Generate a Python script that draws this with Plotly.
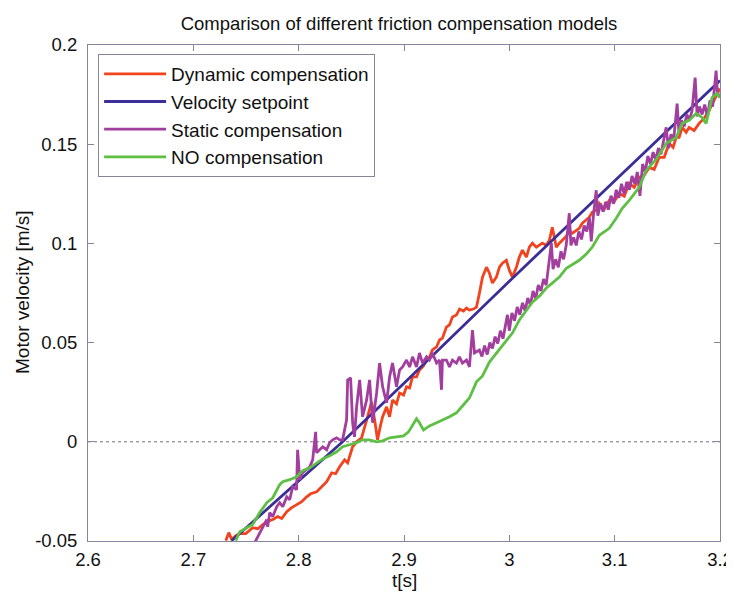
import plotly.graph_objects as go

# ---------------- data ----------------
x_ticks = [2.6, 2.7, 2.8, 2.9, 3.0, 3.1, 3.2]
x_tick_labels = ["2.6", "2.7", "2.8", "2.9", "3", "3.1", "3.2"]
y_ticks = [-0.05, 0.0, 0.05, 0.1, 0.15, 0.2]
y_tick_labels = ["-0.05", "0", "0.05", "0.1", "0.15", "0.2"]

dyn_t = [2.7308, 2.7337, 2.7365, 2.7403, 2.7441, 2.7498, 2.7564, 2.7612, 2.7659, 2.7706,
         2.7754, 2.7801, 2.7839, 2.7887, 2.7934, 2.7981, 2.8029, 2.8076, 2.8114, 2.8171,
         2.8218, 2.8266, 2.8313, 2.8351, 2.8389, 2.8436, 2.8465, 2.8512, 2.8550, 2.8597,
         2.8654, 2.8692, 2.8721, 2.8749, 2.8778, 2.8797, 2.8835, 2.8863, 2.8891, 2.8929,
         2.8958, 2.8996, 2.9024, 2.9053, 2.9081, 2.9119, 2.9147, 2.9185, 2.9214, 2.9242,
         2.9270, 2.9309, 2.9337, 2.9365, 2.9403, 2.9432, 2.9460, 2.9498, 2.9527, 2.9565,
         2.9593, 2.9621, 2.9659, 2.9688, 2.9716, 2.9745, 2.9783, 2.9811, 2.9839, 2.9877,
         2.9906, 2.9934, 2.9972, 3.0000, 3.0029, 3.0067, 3.0095, 3.0124, 3.0162, 3.0190,
         3.0219, 3.0257, 3.0285, 3.0313, 3.0351, 3.0380, 3.0408, 3.0446, 3.0475, 3.0503,
         3.0541, 3.0569, 3.0598, 3.0636, 3.0664, 3.0693, 3.0730, 3.0759, 3.0787, 3.0825,
         3.0854, 3.0901, 3.0949, 3.0996, 3.1043, 3.1091, 3.1138, 3.1186, 3.1233, 3.1280,
         3.1328, 3.1375, 3.1423, 3.1470, 3.1517, 3.1555, 3.1584, 3.1612, 3.1641, 3.1679,
         3.1707, 3.1754, 3.1802, 3.1849, 3.1896, 3.1944, 3.1991, 3.2000]
dyn_v = [-0.0498, -0.0458, -0.0493, -0.0473, -0.0463, -0.0463, -0.0433, -0.0438, -0.0417, -0.0402,
         -0.0392, -0.0377, -0.0387, -0.0352, -0.0332, -0.0317, -0.0302, -0.0277, -0.0262, -0.0252,
         -0.0226, -0.0201, -0.0156, -0.0161, -0.0126, -0.0091, -0.0106, -0.0025, 0.0000, 0.0020,
         0.0126, 0.0201, 0.0111, 0.0010, 0.0086, 0.0126, 0.0176, 0.0126, 0.0211, 0.0191,
         0.0246, 0.0236, 0.0277, 0.0272, 0.0327, 0.0327, 0.0362, 0.0382, 0.0412, 0.0428,
         0.0463, 0.0478, 0.0513, 0.0523, 0.0578, 0.0589, 0.0629, 0.0639, 0.0669, 0.0659,
         0.0674, 0.0664, 0.0669, 0.0679, 0.0749, 0.0830, 0.0880, 0.0850, 0.0800, 0.0830,
         0.0880, 0.0900, 0.0915, 0.0865, 0.0830, 0.0880, 0.0931, 0.0966, 0.0931, 0.0981,
         0.1001, 0.0981, 0.0991, 0.1001, 0.0991, 0.1016, 0.1081, 0.0981, 0.1001, 0.1016,
         0.1036, 0.1066, 0.1051, 0.1066, 0.1076, 0.1102, 0.1117, 0.1132, 0.1157, 0.1167,
         0.1202, 0.1172, 0.1217, 0.1212, 0.1252, 0.1238, 0.1303, 0.1283, 0.1333, 0.1343,
         0.1383, 0.1373, 0.1434, 0.1434, 0.1504, 0.1484, 0.1534, 0.1534, 0.1585, 0.1560,
         0.1585, 0.1569, 0.1605, 0.1630, 0.1670, 0.1720, 0.1771, 0.1781]

set_t = [2.7365, 2.7700, 2.8000, 2.8417, 2.9000, 2.9716, 3.0000, 3.0854, 3.1500, 3.2000]
set_v = [-0.0498, -0.0339, -0.0196, 0.0000, 0.0295, 0.0664, 0.0809, 0.1242, 0.1568, 0.1821]

stat_t = [2.7583, 2.7630, 2.7660, 2.7697, 2.7706, 2.7725, 2.7754, 2.7792, 2.7820, 2.7849,
          2.7887, 2.7915, 2.7943, 2.7980, 2.7990, 2.8010, 2.8038, 2.8076, 2.8105, 2.8133,
          2.8161, 2.8170, 2.8200, 2.8228, 2.8266, 2.8294, 2.8323, 2.8360, 2.8390, 2.8417,
          2.8455, 2.8465, 2.8493, 2.8512, 2.8530, 2.8550, 2.8579, 2.8607, 2.8645, 2.8673,
          2.8702, 2.8740, 2.8768, 2.8797, 2.8835, 2.8863, 2.8891, 2.8929, 2.8958, 2.8986,
          2.9024, 2.9053, 2.9081, 2.9119, 2.9147, 2.9176, 2.9214, 2.9242, 2.9270, 2.9309,
          2.9337, 2.9356, 2.9365, 2.9403, 2.9432, 2.9460, 2.9498, 2.9526, 2.9555, 2.9593,
          2.9621, 2.9650, 2.9669,
          2.9716, 2.9740, 2.9765, 2.9790, 2.9815, 2.9840, 2.9865, 2.9890, 2.9915, 2.9940,
          2.9965, 2.9982, 3.0000, 3.0025, 3.0050, 3.0075, 3.0100, 3.0125, 3.0150, 3.0175,
          3.0200, 3.0225, 3.0250, 3.0275, 3.0300, 3.0325, 3.0350, 3.0375, 3.0399, 3.0415,
          3.0440, 3.0465, 3.0490, 3.0515, 3.0540, 3.0569, 3.0585, 3.0610, 3.0635, 3.0660,
          3.0685, 3.0710, 3.0735, 3.0760, 3.0778, 3.0800, 3.0825, 3.0840, 3.0865, 3.0890,
          3.0915, 3.0940, 3.0965, 3.0990, 3.1015, 3.1040, 3.1065, 3.1090, 3.1115, 3.1140,
          3.1165, 3.1190, 3.1215, 3.1240, 3.1265, 3.1290, 3.1315, 3.1340, 3.1365, 3.1390,
          3.1415, 3.1440, 3.1465, 3.1489, 3.1510, 3.1535, 3.1560, 3.1593, 3.1610, 3.1635,
          3.1660, 3.1685, 3.1710, 3.1735, 3.1764, 3.1783, 3.1805, 3.1830, 3.1855, 3.1880,
          3.1905, 3.1930, 3.1963, 3.1975, 3.2000]
stat_v = [-0.0508, -0.0458, -0.0428, -0.0392, -0.0428, -0.0357, -0.0377, -0.0327, -0.0307, -0.0327,
          -0.0277, -0.0292, -0.0226, -0.0241, -0.0040, -0.0191, -0.0156, -0.0141, -0.0126, -0.0091,
          0.0050, -0.0055, -0.0040, -0.0025, -0.0040, -0.0005, 0.0010, 0.0020, 0.0010, 0.0010,
          0.0111, 0.0312, 0.0322, 0.0096, 0.0025, 0.0176, 0.0312, 0.0126, 0.0211, 0.0312,
          0.0096, 0.0246, 0.0397, 0.0277, 0.0196, 0.0327, 0.0397, 0.0277, 0.0362, 0.0377,
          0.0412, 0.0377, 0.0428, 0.0377, 0.0448, 0.0397, 0.0428, 0.0412, 0.0448, 0.0397,
          0.0412, 0.0262, 0.0412, 0.0412, 0.0377, 0.0412, 0.0397, 0.0428, 0.0397, 0.0412,
          0.0377, 0.0563, 0.0448,
          0.0463, 0.0430, 0.0485, 0.0440, 0.0500, 0.0470, 0.0530, 0.0495, 0.0560, 0.0520,
          0.0600, 0.0640, 0.0560, 0.0650, 0.0610, 0.0680, 0.0640, 0.0700, 0.0660, 0.0725,
          0.0690, 0.0760, 0.0720, 0.0790, 0.0760, 0.0820, 0.0790, 0.0900, 0.1001, 0.0870,
          0.0920, 0.0880, 0.0960, 0.0920, 0.0990, 0.1152, 0.0990, 0.1030, 0.0990, 0.1060,
          0.1020, 0.1090, 0.1060, 0.1130, 0.1010, 0.1150, 0.1268, 0.1140, 0.1200, 0.1160,
          0.1210, 0.1170, 0.1240, 0.1200, 0.1270, 0.1230, 0.1300, 0.1250, 0.1310, 0.1270,
          0.1340, 0.1300, 0.1360, 0.1240, 0.1400, 0.1360, 0.1440, 0.1400, 0.1460, 0.1420,
          0.1480, 0.1450, 0.1520, 0.1585, 0.1480, 0.1550, 0.1520, 0.1705, 0.1560, 0.1620,
          0.1590, 0.1650, 0.1620, 0.1670, 0.1836, 0.1640, 0.1690, 0.1650, 0.1700, 0.1640,
          0.1720, 0.1690, 0.1871, 0.1760, 0.1735]

noc_t = [2.7403, 2.7441, 2.7507, 2.7564, 2.7630, 2.7697, 2.7754, 2.7792, 2.7820, 2.7849,
         2.7915, 2.7981, 2.8038, 2.8105, 2.8171, 2.8228, 2.8294, 2.8361, 2.8417, 2.8484,
         2.8550, 2.8607, 2.8673, 2.8740, 2.8797, 2.8863, 2.8929, 2.8996, 2.9043, 2.9081,
         2.9119, 2.9147, 2.9185, 2.9242, 2.9309, 2.9365, 2.9432, 2.9498, 2.9555, 2.9621,
         2.9688, 2.9745, 2.9811, 2.9877, 2.9934, 3.0029, 3.0095, 3.0162, 3.0219, 3.0285,
         3.0351, 3.0408, 3.0475, 3.0541, 3.0598, 3.0664, 3.0730, 3.0787, 3.0854, 3.0949,
         3.1015, 3.1072, 3.1138, 3.1233, 3.1299, 3.1394, 3.1489, 3.1584, 3.1641, 3.1707,
         3.1773, 3.1830, 3.1868, 3.1925, 3.1972, 3.2000]
noc_v = [-0.0498, -0.0453, -0.0433, -0.0417, -0.0357, -0.0307, -0.0282, -0.0241, -0.0216, -0.0201,
         -0.0191, -0.0176, -0.0146, -0.0131, -0.0106, -0.0086, -0.0070, -0.0050, -0.0025, -0.0015,
         -0.0005, 0.0010, 0.0010, 0.0000, 0.0005, 0.0020, 0.0025, 0.0030, 0.0050, 0.0080,
         0.0116, 0.0096, 0.0060, 0.0080, 0.0096, 0.0106, 0.0126, 0.0146, 0.0181, 0.0221,
         0.0302, 0.0332, 0.0402, 0.0448, 0.0483, 0.0548, 0.0614, 0.0664, 0.0704, 0.0734,
         0.0775, 0.0800, 0.0830, 0.0875, 0.0895, 0.0915, 0.0946, 0.0981, 0.1041, 0.1076,
         0.1127, 0.1177, 0.1217, 0.1283, 0.1368, 0.1423, 0.1504, 0.1534, 0.1605, 0.1620,
         0.1655, 0.1635, 0.1605, 0.1735, 0.1755, 0.1735]

series = [
    ("Dynamic compensation", dyn_t, dyn_v, "#f2431f"),
    ("Velocity setpoint", set_t, set_v, "#3b2e98"),
    ("Static compensation", stat_t, stat_v, "#a23f9e"),
    ("NO compensation", noc_t, noc_v, "#5dbf44"),
]

FONT = "Liberation Sans, Arial, Helvetica, sans-serif"
AX = "#85859b"
W, H = 726, 585          # page body has an 8 px margin in the browser
ML, MR, MT, MB = 80, 14, 37, 52
PW, PH = W - ML - MR, H - MT - MB

fig = go.Figure()
for name, t, v, c in series:
    fig.add_trace(go.Scatter(x=t, y=v, mode="lines", name=name,
                             line=dict(color=c, width=2.8)))

fig.add_shape(type="line", xref="paper", x0=0, x1=1, yref="y", y0=0, y1=0,
              line=dict(color="#707080", width=1, dash="dot"), layer="below")

axis_common = dict(showgrid=False, zeroline=False, showline=True, linecolor=AX,
                   linewidth=1, mirror="ticks", ticks="inside", ticklen=6,
                   tickcolor=AX, automargin=False,
                   tickfont=dict(family=FONT, size=18.5, color="#111"))

fig.add_annotation(text="Motor velocity [m/s]", xref="paper", yref="paper",
                   x=(14 - ML) / PW, y=(MT + PH - 284) / PH, textangle=-90,
                   showarrow=False, xanchor="center", yanchor="middle",
                   font=dict(family=FONT, size=19, color="#111"))
fig.add_annotation(text="t[s]", xref="paper", yref="paper",
                   x=0.5, y=(MT + PH - 572) / PH, showarrow=False,
                   xanchor="center", yanchor="middle",
                   font=dict(family=FONT, size=19, color="#111"))

fig.update_layout(
    width=W, height=H,
    margin=dict(l=ML, r=MR, t=MT, b=MB, autoexpand=False),
    paper_bgcolor="white", plot_bgcolor="white",
    font=dict(family=FONT, color="#111"),
    title=dict(text="Comparison of different friction compensation models",
               x=391 / W, xanchor="center", y=1 - 16 / H, yanchor="middle",
               font=dict(family=FONT, size=18.5, color="#111"), automargin=False),
    xaxis=dict(range=[2.6, 3.2], tickvals=x_ticks, ticktext=x_tick_labels,
               ticklabelstandoff=2, **axis_common),
    yaxis=dict(range=[-0.05, 0.2], tickvals=y_ticks, ticktext=y_tick_labels,
               ticklabelstandoff=6, **axis_common),
    legend=dict(x=0.016, y=0.982, xanchor="left", yanchor="top",
                bgcolor="white", bordercolor=AX, borderwidth=1,
                font=dict(family=FONT, size=19, color="#111"),
                itemwidth=62, tracegroupgap=0),
    showlegend=True,
)

fig.write_html("out.html")
